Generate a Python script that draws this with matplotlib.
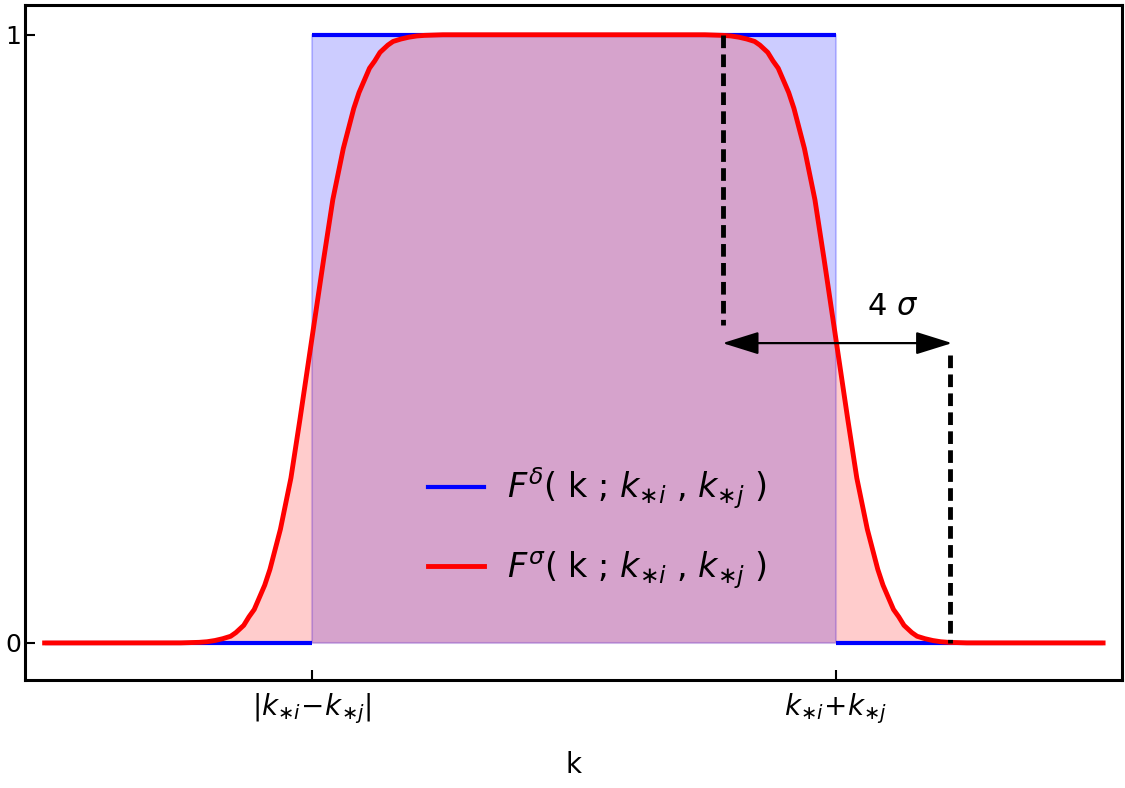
import numpy as np
import matplotlib.pyplot as plt
from matplotlib.patches import FancyArrowPatch

# === Données ===
# fenêtre lissée F^sigma (k, valeur)
k_sigma = [-0.02, 0.50, 0.57, 0.60, 0.63, 0.66, 0.69, 0.71, 0.725, 0.74,
           0.76, 0.78, 0.80, 0.82, 0.84, 0.86, 0.88, 0.92, 0.955, 1.00,
           1.045, 1.08, 1.12, 1.14, 1.16, 1.18, 1.20, 1.22, 1.24, 1.26,
           1.275, 1.29, 1.31, 1.34, 1.37, 1.40, 1.43, 1.50,
           2.50, 2.57, 2.60, 2.63, 2.66, 2.69, 2.71, 2.725, 2.74, 2.76,
           2.78, 2.80, 2.82, 2.84, 2.86, 2.88, 2.92, 2.955, 3.00, 3.045,
           3.08, 3.12, 3.14, 3.16, 3.18, 3.20, 3.22, 3.24, 3.26, 3.275,
           3.29, 3.31, 3.34, 3.37, 3.40, 3.43, 3.50, 4.02]
F_sigma = [0.0, 0.0001, 0.001, 0.002, 0.004, 0.007, 0.011, 0.017, 0.023, 0.029,
           0.043, 0.055, 0.075, 0.095, 0.121, 0.154, 0.187, 0.271, 0.369, 0.5,
           0.631, 0.729, 0.813, 0.846, 0.879, 0.905, 0.925, 0.945, 0.957, 0.971,
           0.977, 0.983, 0.989, 0.993, 0.996, 0.998, 0.999, 1.0,
           1.0, 0.999, 0.998, 0.996, 0.993, 0.989, 0.983, 0.977, 0.971, 0.957,
           0.945, 0.925, 0.905, 0.879, 0.846, 0.813, 0.729, 0.631, 0.5, 0.369,
           0.271, 0.187, 0.154, 0.121, 0.095, 0.075, 0.055, 0.043, 0.029, 0.023,
           0.017, 0.011, 0.007, 0.004, 0.002, 0.001, 0.0001, 0.0]

# fenêtre carrée F^delta : bords des marches et niveaux
k_edges = [-0.02, 1.0, 3.0, 4.02]
F_delta = [0.0, 1.0, 0.0]

# ticks
x_ticks = [1.0, 3.0]
x_ticklabels = [r"$|k_{\ast i}\!-\!k_{\ast j}|$", r"$k_{\ast i}\!+\!k_{\ast j}$"]
y_ticks = [0, 1]
y_ticklabels = ["0", "1"]

# annotation 4 sigma
k_dash = [2.569, 3.435]
y_dash_from = [1.0, 0.474]
y_dash_to = [0.523, 0.0]
arrow_k = [2.557, 3.454]
arrow_y = 0.493
label_pos = (3.218, 0.553)

# === Affichage ===
fig = plt.figure(figsize=(11.25, 7.88), dpi=100)
ax = fig.add_axes([0.0222, 0.137, 0.9751, 0.8567])

# remplissages
ax.fill_between([k_edges[1], k_edges[2]], 0, F_delta[1], color=(0, 0, 1, 0.2),
                edgecolor=(0, 0, 1, 0.2), linewidth=1.5, zorder=1)
ax.fill_between(k_sigma, 0, F_sigma, color=(1, 0, 0, 0.2), linewidth=0, zorder=1.1)

# courbes
ax.hlines(F_delta, k_edges[:-1], k_edges[1:], color="blue", lw=3, zorder=2)
ax.plot([], [], color="blue", lw=3,
        label=r"$F^{\delta}$( k ; $k_{\ast i}$ , $k_{\ast j}$ )")
ax.plot(k_sigma, F_sigma, color="red", lw=3.5, zorder=3, solid_joinstyle="round",
        label=r"$F^{\sigma}$( k ; $k_{\ast i}$ , $k_{\ast j}$ )")

# lignes pointillées et flèche
for kd, y0, y1 in zip(k_dash, y_dash_from, y_dash_to):
    ax.plot([kd, kd], [y0, y1], color="black", lw=3.5, dashes=(2.6, 1.3), zorder=4)
arr = FancyArrowPatch((arrow_k[0], arrow_y), (arrow_k[1], arrow_y),
                      arrowstyle="<|-|>,head_length=1.6,head_width=0.5",
                      mutation_scale=14, color="black", lw=1.6, zorder=5)
ax.add_patch(arr)
ax.text(label_pos[0], label_pos[1], r"4 $\sigma$", fontsize=22, ha="center", va="center")

ax.set_xlim(-0.095, 4.092)
ax.set_ylim(-0.061, 1.049)
ax.set_xticks(x_ticks)
ax.set_xticklabels(x_ticklabels, fontsize=20)
ax.set_yticks(y_ticks)
ax.set_yticklabels(y_ticklabels, fontsize=18)
ax.tick_params(direction="in", length=7, width=1.5)
ax.tick_params(axis="x", pad=8)
ax.tick_params(axis="y", pad=3)
for s in ax.spines.values():
    s.set_linewidth(2.2)
ax.set_xlabel("k", fontsize=20, labelpad=18)

ax.legend(loc="upper left", bbox_to_anchor=(0.367, 0.318), frameon=False,
          fontsize=24, handlelength=1.7, handletextpad=0.68, labelspacing=1.15,
          borderpad=0, borderaxespad=0)

plt.savefig("out.png", dpi=100)
